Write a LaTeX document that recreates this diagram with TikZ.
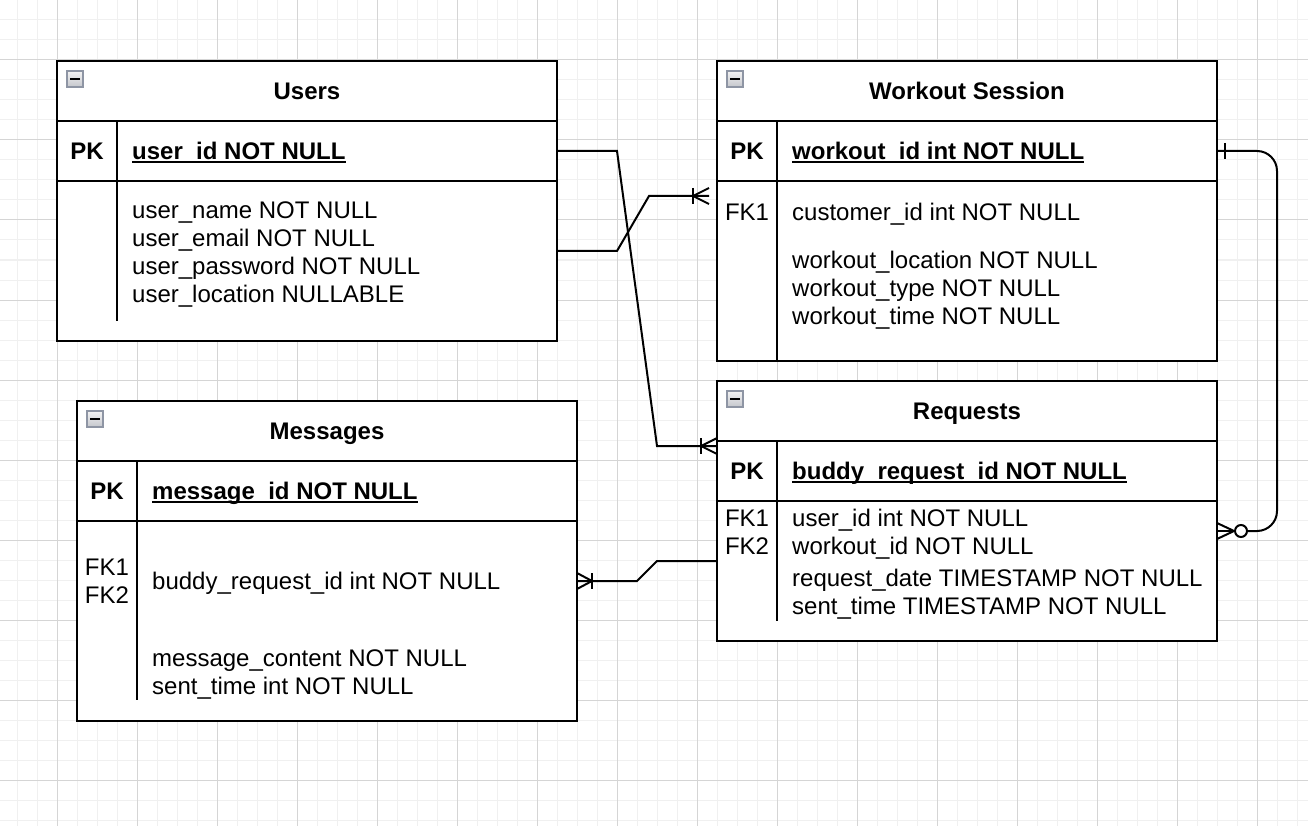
\documentclass[tikz,border=0pt]{standalone}
\usepackage{fontspec}
\setmainfont{Liberation Sans}
\usetikzlibrary{calc}
\definecolor{gridminor}{HTML}{F0F0F0}
\definecolor{gridmajor}{HTML}{D5D5D5}
\definecolor{iconborder}{HTML}{8E95A4}
\definecolor{icontop}{HTML}{F4F4F4}
\definecolor{iconbot}{HTML}{C4C6CC}
\begin{document}
\begin{tikzpicture}[x=1pt,y=-1pt,
  tblbox/.style={draw=black, line width=2pt, fill=white, inner sep=0pt, outer sep=0pt, anchor=north west},
  divider/.style={line width=2pt, black},
  conn/.style={line width=2pt, black, line join=miter},
  ltxt/.style={anchor=base west, inner sep=0pt, font=\fontsize{24}{28}\selectfont},
  ctxt/.style={anchor=base, inner sep=0pt, font=\fontsize{24}{28}\selectfont},
  bctxt/.style={anchor=base, inner sep=0pt, font=\fontsize{24}{28}\selectfont\bfseries},
  bltxt/.style={anchor=base west, inner sep=0pt, font=\fontsize{24}{28}\selectfont\bfseries},
  uline/.style={line width=2pt, black},
  iconsq/.style={draw=iconborder, line width=1.2pt, top color=icontop, bottom color=iconbot}
]
\useasboundingbox (0,0) rectangle (1308,826);
\fill[white] (0,0) rectangle (1308,826);
% grid
\foreach \x in {17,37,...,1307} \draw[gridminor, line width=1pt] (\x,0) -- (\x,826);
\foreach \y in {0,20,...,820} \draw[gridminor, line width=1pt] (0,\y) -- (1308,\y);
\foreach \x in {57,137,...,1300} \draw[gridmajor, line width=1pt] (\x,0) -- (\x,826);
\foreach \y in {60,140,...,820} \draw[gridmajor, line width=1pt] (0,\y) -- (1308,\y);

% ---------- Users ----------
\node[tblbox, minimum width=500pt, minimum height=280pt] (users) at (57,61) {};
\draw[divider] (57,121) -- (557,121);
\draw[divider] (57,181) -- (557,181);
\draw[divider] (117,121) -- (117,321);
\draw[iconsq] (67,71) rectangle (83,87);
\draw[line width=2pt] (70,79) -- (80,79);
\node[bctxt] (usersT) at (307,99.6) {Users};
\node[bctxt] (usersPK) at (87,159.6) {PK};
\node[bltxt] (usersId) at (132,159.6) {user\_id NOT NULL};
\draw[uline] ($(usersId.base west)+(0,2.5)$) -- ($(usersId.base east)+(0,2.5)$);
\node[ltxt] (uA1) at (132,218.6) {user\_name NOT NULL};
\node[ltxt] (uA2) at (132,246.6) {user\_email NOT NULL};
\node[ltxt] (uA3) at (132,274.6) {user\_password NOT NULL};
\node[ltxt] (uA4) at (132,302.6) {user\_location NULLABLE};

% ---------- Workout Session ----------
\node[tblbox, minimum width=500pt, minimum height=300pt] (ws) at (717,61) {};
\draw[divider] (717,121) -- (1217,121);
\draw[divider] (717,181) -- (1217,181);
\draw[divider] (777,121) -- (777,361);
\draw[iconsq] (727,71) rectangle (743,87);
\draw[line width=2pt] (730,79) -- (740,79);
\node[bctxt] (wsT) at (967,99.6) {Workout Session};
\node[bctxt] (wsPK) at (747,159.6) {PK};
\node[bltxt] (wsId) at (792,159.6) {workout\_id int NOT NULL};
\draw[uline] ($(wsId.base west)+(0,2.5)$) -- ($(wsId.base east)+(0,2.5)$);
\node[ctxt] (wsFK) at (747,220.6) {FK1};
\node[ltxt] (wA1) at (792,220.6) {customer\_id int NOT NULL};
\node[ltxt] (wA2) at (792,268.6) {workout\_location NOT NULL};
\node[ltxt] (wA3) at (792,296.6) {workout\_type NOT NULL};
\node[ltxt] (wA4) at (792,324.6) {workout\_time NOT NULL};

% ---------- Requests ----------
\node[tblbox, minimum width=500pt, minimum height=260pt] (req) at (717,381) {};
\draw[divider] (717,441) -- (1217,441);
\draw[divider] (717,501) -- (1217,501);
\draw[divider] (777,441) -- (777,621);
\draw[iconsq] (727,391) rectangle (743,407);
\draw[line width=2pt] (730,399) -- (740,399);
\node[bctxt] (reqT) at (967,419.6) {Requests};
\node[bctxt] (reqPK) at (747,479.6) {PK};
\node[bltxt] (reqId) at (792,479.6) {buddy\_request\_id NOT NULL};
\draw[uline] ($(reqId.base west)+(0,2.5)$) -- ($(reqId.base east)+(0,2.5)$);
\node[ctxt] (reqFK1) at (747,526.6) {FK1};
\node[ctxt] (reqFK2) at (747,554.6) {FK2};
\node[ltxt] (rA1) at (792,526.6) {user\_id int NOT NULL};
\node[ltxt] (rA2) at (792,554.6) {workout\_id NOT NULL};
\node[ltxt] (rA3) at (792,586.6) {request\_date TIMESTAMP NOT NULL};
\node[ltxt] (rA4) at (792,614.6) {sent\_time TIMESTAMP NOT NULL};

% ---------- Messages ----------
\node[tblbox, minimum width=500pt, minimum height=320pt] (msg) at (77,401) {};
\draw[divider] (77,461) -- (577,461);
\draw[divider] (77,521) -- (577,521);
\draw[divider] (137,461) -- (137,700);
\draw[iconsq] (87,411) rectangle (103,427);
\draw[line width=2pt] (90,419) -- (100,419);
\node[bctxt] (msgT) at (327,439.6) {Messages};
\node[bctxt] (msgPK) at (107,499.6) {PK};
\node[bltxt] (msgId) at (152,499.6) {message\_id NOT NULL};
\draw[uline] ($(msgId.base west)+(0,2.5)$) -- ($(msgId.base east)+(0,2.5)$);
\node[ctxt] (msgFK1) at (107,575.6) {FK1};
\node[ctxt] (msgFK2) at (107,603.6) {FK2};
\node[ltxt] (mA1) at (152,589.6) {buddy\_request\_id int NOT NULL};
\node[ltxt] (mA2) at (152,666.6) {message\_content NOT NULL};
\node[ltxt] (mA3) at (152,694.6) {sent\_time int NOT NULL};

% ---------- connector endpoints ----------
\coordinate (c1s) at (557,151);
\coordinate (c1e) at (717,446);
\coordinate (c2s) at (557,251);
\coordinate (c2e) at (709,196);
\coordinate (c3s) at (1217,151);
\coordinate (c3e) at (1217,531);
\coordinate (c4s) at (717,561);
\coordinate (c4e) at (577,581);

% Users.user_id -> Requests (one to many)
\draw[conn] (c1s) -- (617,151) -- (657,446) -- (c1e);
\draw[conn] (701,438) -- (701,454);
\draw[conn] (701,446) -- (717,438);
\draw[conn] (701,446) -- (717,454);

% Users -> Workout Session customer_id (one to many)
\draw[conn] (c2s) -- (617,251) -- (649,196) -- (c2e);
\draw[conn] (693,188) -- (693,204);
\draw[conn] (693,196) -- (709,188);
\draw[conn] (693,196) -- (709,204);

% Workout Session -> Requests (one to zero-or-many)
\node[circle, draw=black, fill=white, line width=2pt, minimum size=12pt, inner sep=0pt] (zc) at (1241,531) {};
\draw[conn, rounded corners=20pt] (c3s) -- (1277,151) -- (1277,531) -- (zc.east);
\draw[conn] (1225,143) -- (1225,159);
\draw[conn] (zc.west) -- (c3e);
\draw[conn] (zc.west) -- (1217,523);
\draw[conn] (zc.west) -- (1217,539);

% Requests -> Messages (one to many)
\draw[conn] (c4s) -- (657,561) -- (637,581) -- (c4e);
\draw[conn] (592,573) -- (592,589);
\draw[conn] (592,581) -- (577,573);
\draw[conn] (592,581) -- (577,589);
\end{tikzpicture}
\end{document}
